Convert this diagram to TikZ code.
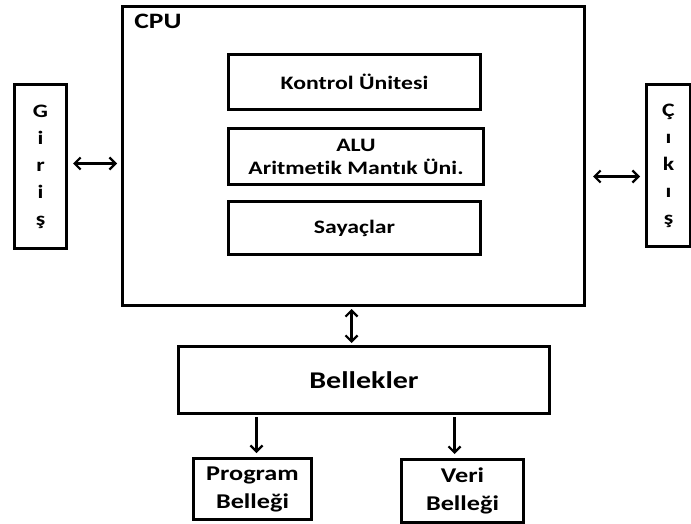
\documentclass[tikz,border=0pt]{standalone}
\usepackage{fontspec}
\setmainfont{Carlito}[FakeStretch=1.25, Ligatures=NoCommon]
\usetikzlibrary{arrows.meta}

\tikzset{
  kutu/.style={draw, line width=3pt, inner sep=0pt, anchor=north west, align=center, font=\bfseries},
  ok/.style={line width=2.2pt, {Straight Barb[length=6pt,width=12pt]}-{Straight Barb[length=6pt,width=12pt]}},
  tekok/.style={line width=2.2pt, -{Straight Barb[length=6pt,width=12pt]}},
}

\begin{document}
\begin{tikzpicture}[x=1pt,y=-1pt]
  \useasboundingbox (0,0) rectangle (691,524);

  % islemci
  \node[kutu, minimum width=462pt, minimum height=299pt] (cpu) at (121,5) {};
  \node[font=\bfseries\fontsize{22}{24}\selectfont] (cpuyazi) at (158,21) {CPU};

  \node[kutu, minimum width=252pt, minimum height=55pt, font=\bfseries\fontsize{19}{22}\selectfont] (kontrol) at (227,53) {Kontrol Ünitesi};
  \node[kutu, minimum width=255pt, minimum height=56pt, font=\bfseries\fontsize{19}{23}\selectfont] (alu) at (227,127) {ALU\\Aritmetik Mantık Üni.};
  \node[kutu, minimum width=252pt, minimum height=53pt, font=\bfseries\fontsize{19}{22}\selectfont] (sayac) at (227,200) {Sayaçlar};

  % giris cikis
  \node[kutu, minimum width=52pt, minimum height=164pt, font=\bfseries\fontsize{19}{27}\selectfont] (giris) at (13,83) {G\\i\\r\\i\\ş};
  \node[kutu, minimum width=44pt, minimum height=162pt, font=\bfseries\fontsize{19}{27}\selectfont] (cikis) at (645,83) {Ç\\ı\\k\\ı\\ş};

  % bellekler
  \node[kutu, minimum width=371pt, minimum height=67pt, font=\bfseries\fontsize{24}{28}\selectfont] (bellek) at (177,345) {Bellekler};
  \node[kutu, minimum width=118pt, minimum height=61pt, font=\bfseries\fontsize{21}{28}\selectfont] (program) at (192,457) {Program\\Belleği};
  \node[kutu, minimum width=122pt, minimum height=63pt, font=\bfseries\fontsize{21}{28}\selectfont] (veri) at (400,458) {Veri\\Belleği};

  \draw[ok, shorten <=5pt, shorten >=4pt] ([yshift=3pt]giris.east) -- ([yshift=3pt]giris.east -| cpu.west);
  \draw[ok, shorten <=5pt, shorten >=7pt] ([yshift=-11pt]cikis.west) -- ([yshift=-11pt]cikis.west -| cpu.east);
  \draw[ok, shorten <=2pt, shorten >=2pt] ([xshift=-2pt]cpu.south) -- ([xshift=-2pt]cpu.south |- bellek.north);
  \draw[tekok, shorten <=2pt, shorten >=4pt] ([xshift=4pt]program.north |- bellek.south) -- ([xshift=4pt]program.north);
  \draw[tekok, shorten <=2pt, shorten >=4pt] ([xshift=-8pt]veri.north |- bellek.south) -- ([xshift=-8pt]veri.north);
\end{tikzpicture}
\end{document}
